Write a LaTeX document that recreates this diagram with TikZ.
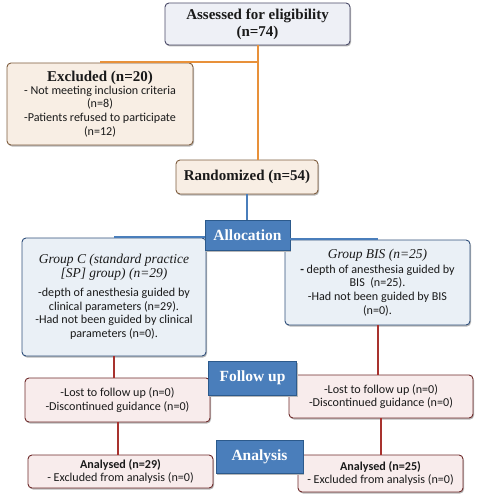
\documentclass[tikz,border=0pt]{standalone}
\usepackage{fontspec}
\setmainfont{Liberation Serif}
\newfontfamily\calfam{Carlito}
\usepackage{tikz}
\usetikzlibrary{positioning,shadows}

%% colours of the chart
\definecolor{greyfill}{HTML}{EEF0F6}
\definecolor{greyedge}{HTML}{4A4A68}
\definecolor{creamfill}{HTML}{F8EEE4}
\definecolor{creamedge}{HTML}{7E5D3E}
\definecolor{orangeln}{HTML}{E8913A}
\definecolor{stagefill}{HTML}{4A7EBB}
\definecolor{stageedge}{HTML}{2C5A8C}
\definecolor{groupfill}{HTML}{EAF0F6}
\definecolor{groupedge}{HTML}{2F4F7A}
\definecolor{redln}{HTML}{A8322E}
\definecolor{pinkfill}{HTML}{F8ECEC}
\definecolor{pinkedge}{HTML}{6E2A2A}
\definecolor{textdark}{HTML}{1A1A1A}
\definecolor{shadowc}{HTML}{B8B8B8}

\newcommand\fhead{\rmfamily\fontsize{15}{17}\selectfont\bfseries}
\newcommand\fital{\rmfamily\fontsize{13.5}{13}\selectfont\itshape}
\newcommand\cbody{\calfam\fontsize{12.1}{13.7}\selectfont}

\tikzset{
  basebox/.style={draw, rounded corners=4pt, line width=0.9pt, inner sep=2pt,
    align=center, text=textdark,
    drop shadow={shadow xshift=1pt, shadow yshift=-1.5pt, fill=shadowc, opacity=1}},
  greybox/.style={basebox, draw=greyedge, fill=greyfill},
  creambox/.style={basebox, draw=creamedge, fill=creamfill},
  groupbox/.style={basebox, draw=groupedge, fill=groupfill},
  pinkbox/.style={basebox, draw=pinkedge, fill=pinkfill},
  stagebox/.style={draw=stageedge, fill=stagefill, line width=0.9pt, text=white,
    font=\fontsize{15.5}{17}\selectfont\bfseries, inner sep=2pt,
    drop shadow={shadow xshift=1pt, shadow yshift=-1.5pt, fill=shadowc, opacity=1}},
  orangeline/.style={draw=orangeln, line width=2pt},
  blueline/.style={draw=stagefill, line width=2pt},
  redline/.style={draw=redln, line width=2pt}
}

\begin{document}
\begin{tikzpicture}[x=1pt,y=-1pt]
	\useasboundingbox (0,0) rectangle (480,500);

	%% enrolment
	\node[greybox, minimum width=185, minimum height=42, font=\fhead] (assessed) at (257.5,24)
		{Assessed for eligibility\\(n=74)};
	\node[creambox, minimum width=186, minimum height=82, font=\cbody] (excluded) at (100,104)
		{{\fhead Excluded (n=20)}\\[-1pt]
		 - Not meeting inclusion criteria\\(n=8)\\-Patients refused to participate\\(n=12)};
	\node[creambox, minimum width=142, minimum height=34, font=\fhead] (randomized) at (247,177)
		{Randomized (n=54)};

	%% allocation
	\node[groupbox, minimum width=184, minimum height=118, font=\cbody] (groupC) at (114,297)
		{{\fital Group C (standard practice}\\{\fital [SP] group) (n=29)}\\[5pt]
		 -depth of anesthesia guided by\\clinical parameters (n=29).\\
		 -Had not been guided by clinical\\parameters (n=0).};
	\node[groupbox, minimum width=185, minimum height=85, font=\cbody] (groupBIS) at (377.5,282.5)
		{{\fital Group BIS (n=25)}\\[1pt]
		 {\bfseries -} depth of anesthesia guided by\\BIS\ \ (n=25).\\
		 -Had not been guided by BIS\\(n=0).};
	\node[stagebox, minimum width=85, minimum height=30] (allocation) at (247.5,235) {Allocation};

	%% follow up
	\node[pinkbox, minimum width=185, minimum height=44, font=\cbody] (followC) at (117.5,400)
		{-Lost to follow up (n=0)\\-Discontinued guidance (n=0)};
	\node[pinkbox, minimum width=184, minimum height=43, font=\cbody] (followBIS) at (381,396.5)
		{-Lost to follow up (n=0)\\-Discontinued guidance (n=0)};
	\node[stagebox, minimum width=88, minimum height=34] (followup) at (252.5,378) {Follow up};

	%% analysis
	\node[pinkbox, minimum width=185, minimum height=33, font=\cbody] (analysedC) at (120.5,471.5)
		{\textbf{Analysed (n=29)}\\- Excluded from analysis (n=0)};
	\node[pinkbox, minimum width=165, minimum height=37, font=\cbody] (analysedBIS) at (380.5,473.5)
		{\textbf{Analysed (n=25)}\\- Excluded from analysis (n=0)};
	\node[stagebox, minimum width=87, minimum height=33] (analysis) at (259.5,456.5) {Analysis};

	%% connectors
	\draw[orangeline] (assessed) -- (assessed.south |- randomized.north);
	\draw[orangeline] ([yshift=1pt]excluded.north) -- ([yshift=1pt]excluded.north -| assessed.south);
	\draw[blueline] (randomized) -- (randomized.south |- allocation.north);
	\draw[blueline] ([yshift=1pt]groupC.north) -- ([yshift=1pt]groupC.north -| allocation.west);
	\draw[blueline] ([yshift=1pt]groupBIS.north) -- ([yshift=1pt]groupBIS.north -| allocation.east);
	\draw[redline] (groupC.south) -- (groupC.south |- followC.north);
	\draw[redline] (groupBIS.south) -- (groupBIS.south |- followBIS.north);
	\draw[redline] (followC.south) -- (followC.south |- analysedC.north);
	\draw[redline] (followBIS.south) -- (followBIS.south |- analysedBIS.north);
\end{tikzpicture}
\end{document}
